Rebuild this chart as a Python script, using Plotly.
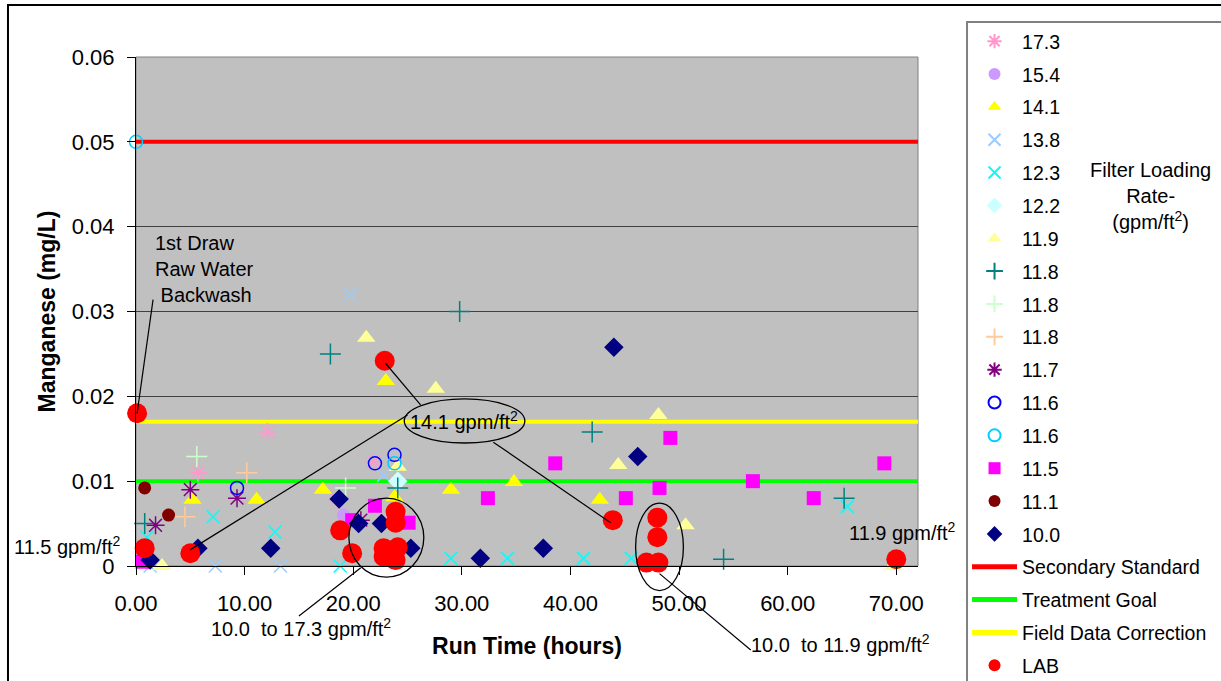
import plotly.graph_objects as go

XMAX = 72
YMAX = 0.06

# Manganese readings (mg/L) against filter run time (hours), by filter loading rate
r173_x = [12.1, 5.7, 21.9, 18.5]
r173_y = [0.0158, 0.011, 0.0123, 0.0078]
r154_x = [19.1]
r154_y = [0.006]
r141_x = [5.2, 11.1, 17.2, 23.0, 23.8, 29.0, 34.8, 42.7]
r141_y = [0.0078, 0.0078, 0.009, 0.0218, 0.0081, 0.009, 0.0099, 0.0078]
r138_x = [19.7, 22.8, 1.3, 7.3, 13.3]
r138_y = [0.032, 0.0107, 0, 0, 0]
r123_x = [1.0, 7.1, 12.8, 18.8, 29.0, 34.2, 41.2, 45.6, 65.5]
r123_y = [0.0034, 0.0058, 0.004, 0, 0.0009, 0.0009, 0.0009, 0.0009, 0.007]
r122_x = [24.1]
r122_y = [0.01]
r119_x = [2.4, 21.2, 27.6, 24.1, 44.4, 48.1, 50.6, 69.7]
r119_y = [0, 0.0269, 0.0209, 0.0117, 0.0119, 0.0178, 0.0048, 0]
r118a_x = [17.9, 29.8, 42.0, 24.1, 0.8, 54.1, 65.2]
r118a_y = [0.025, 0.03, 0.0158, 0.0092, 0.005, 0.0008, 0.008]
r118b_x = [5.6, 19.3]
r118b_y = [0.0129, 0.0092]
r118c_x = [10.2, 4.5]
r118c_y = [0.011, 0.0058]
r117_x = [9.3, 5.0, 1.8, 20.7]
r117_y = [0.008, 0.009, 0.0048, 0.0054]
r116a_x = [9.3, 22.0, 23.8]
r116a_y = [0.0092, 0.0121, 0.0131]
r116b_x = [0, 23.8]
r116b_y = [0.05, 0.0121]
r115_x = [0.6, 22.0, 19.9, 25.1, 32.4, 38.6, 45.1, 48.2, 49.2, 56.8, 62.4, 68.9]
r115_y = [0.0005, 0.0071, 0.0054, 0.0051, 0.008, 0.0121, 0.008, 0.0092, 0.0151, 0.01, 0.008, 0.0121]
r111_x = [0.8, 3.0]
r111_y = [0.0092, 0.006]
r100_x = [1.3, 5.7, 12.4, 18.7, 20.5, 22.6, 25.3, 31.7, 37.5, 44.0, 46.2]
r100_y = [0.0007, 0.0021, 0.0021, 0.0079, 0.005, 0.005, 0.0021, 0.0009, 0.0021, 0.0258, 0.0129]
lab_x = [0.1, 0.8, 5.0, 22.9, 18.8, 19.9, 23.9, 23.9, 22.8, 24.1, 22.8, 23.9,
         43.9, 48.0, 48.0, 47.0, 48.1, 70.0]
lab_y = [0.018, 0.0021, 0.0015, 0.0242, 0.0042, 0.0015, 0.0064, 0.0051, 0.0021, 0.0022,
         0.0011, 0.0007, 0.0054, 0.0057, 0.0034, 0.0004, 0.0004, 0.0008]

# Reference levels (mg/L)
SECONDARY_STANDARD = 0.05
TREATMENT_GOAL = 0.01
FIELD_CORRECTION = 0.017

x_ticks = [0, 10, 20, 30, 40, 50, 60, 70]
y_ticks = [0, 0.01, 0.02, 0.03, 0.04, 0.05, 0.06]
y_ticktext = ["0", "0.01", "0.02", "0.03", "0.04", "0.05", "0.06"]

FONT = "Liberation Sans, Arial, sans-serif"

# name, x, y, symbol, colour, size, outline-only
series = [
    ("17.3", r173_x, r173_y, "asterisk-open", "#FF99CC", 15, True),
    ("15.4", r154_x, r154_y, "circle", "#CC99FF", 13, False),
    ("14.1", r141_x, r141_y, "triangle-up", "#FFFF00", 16, False),
    ("13.8", r138_x, r138_y, "x-thin-open", "#99CCFF", 13, True),
    ("12.3", r123_x, r123_y, "x-thin-open", "#00FFFF", 13, True),
    ("12.2", r122_x, r122_y, "diamond", "#CCFFFF", 15, False),
    ("11.9", r119_x, r119_y, "triangle-up", "#FFFF99", 16, False),
    ("11.8", r118a_x, r118a_y, "cross-thin-open", "#008080", 15, True),
    ("11.8", r118b_x, r118b_y, "cross-thin-open", "#CCFFCC", 15, True),
    ("11.8", r118c_x, r118c_y, "cross-thin-open", "#FFCC99", 15, True),
    ("11.7", r117_x, r117_y, "asterisk-open", "#800080", 15, True),
    ("11.6", r116a_x, r116a_y, "circle-open", "#0000FF", 13, True),
    ("11.6", r116b_x, r116b_y, "circle-open", "#00CCFF", 13, True),
    ("11.5", r115_x, r115_y, "square", "#FF00FF", 14, False),
    ("11.1", r111_x, r111_y, "circle", "#800000", 13, False),
    ("10.0", r100_x, r100_y, "diamond", "#000080", 15, False),
]

levels = [
    ("Secondary Standard", SECONDARY_STANDARD, "#FF0000"),
    ("Treatment Goal", TREATMENT_GOAL, "#00FF00"),
    ("Field Data Correction", FIELD_CORRECTION, "#FFFF00"),
]

fig = go.Figure()

# reference lines go under the markers but sit after the rates in the legend
for j, (name, level, colour) in enumerate(levels):
    fig.add_trace(go.Scatter(
        x=[0, XMAX], y=[level, level], mode="lines", name=name,
        line=dict(color=colour, width=4),
        legendgroup=f"lvl{j}", legendrank=len(series) + j,
        cliponaxis=False, hoverinfo="skip"))

for i, (name, xs, ys, symbol, colour, size, open_) in enumerate(series):
    if open_:
        marker = dict(symbol=symbol, size=size, color=colour,
                      line=dict(color=colour, width=1.5))
    else:
        marker = dict(symbol=symbol, size=size, color=colour, line=dict(width=0))
    fig.add_trace(go.Scatter(
        x=xs, y=ys, mode="markers", name=name, marker=marker,
        legendgroup=f"rate{i}", legendrank=i, cliponaxis=False))

fig.add_trace(go.Scatter(
    x=lab_x, y=lab_y, mode="markers", name="LAB",
    marker=dict(symbol="circle", size=20, color="#FF0000", line=dict(width=0)),
    legendgroup="lab", legendrank=len(series) + len(levels), cliponaxis=False))


def px(x):
    return x / XMAX


def py(y):
    return y / YMAX


def seg(x0, y0, x1, y1):
    return dict(type="line", xref="paper", yref="paper",
                x0=px(x0), y0=py(y0), x1=px(x1), y1=py(y1),
                line=dict(color="#000000", width=1.2), layer="above")


def ring(x0, y0, x1, y1):
    return dict(type="circle", xref="paper", yref="paper",
                x0=px(x0), y0=py(y0), x1=px(x1), y1=py(y1),
                line=dict(color="#000000", width=1.3), layer="above")


shapes = [
    # plot-area frame
    dict(type="rect", xref="paper", yref="paper", x0=0, y0=0, x1=1, y1=1,
         line=dict(color="#808080", width=1), layer="below"),
    # chart-area frame
    dict(type="rect", xref="paper", yref="paper", x0=-0.1637, y0=-0.6, x1=1.6, y1=1.1022,
         line=dict(color="#000000", width=2)),
    # legend frame
    dict(type="rect", xref="paper", yref="paper", x0=1.0627, y0=-0.5, x1=1.5, y1=1.0688,
         line=dict(color="#808080", width=2)),
    seg(1.57, 0.0314, 0.1, 0.018),
    seg(22.97, 0.0239, 26.2, 0.019),
    seg(4.98, 0.0019, 25.0, 0.0178),
    seg(32.9, 0.0146, 43.7, 0.0051),
    seg(20.7, -0.0002, 15.0, -0.0059),
    seg(48.2, -0.0009, 56.6, -0.0099),
    ring(24.7, 0.0145, 35.8, 0.0197),
    ring(19.6, -0.0013, 26.5, 0.008),
    ring(46.0, -0.0029, 50.4, 0.0074),
]


def label(x, y, text, xanchor="center", align="center"):
    return dict(x=px(x), y=py(y), xref="paper", yref="paper", text=text,
                xanchor=xanchor, yanchor="middle", align=align,
                showarrow=False, font=dict(family=FONT, size=20, color="#000000"))


annotations = [
    label(1.57, 0.035, "1st Draw<br>Raw Water<br>&nbsp;Backwash", xanchor="left", align="left"),
    label(30.2, 0.0171, "14.1 gpm/ft<sup>2</sup>"),
    label(15.2, -0.0072, "10.0&nbsp; to 17.3 gpm/ft<sup>2</sup>"),
    label(64.9, -0.0091, "10.0&nbsp; to 11.9 gpm/ft<sup>2</sup>"),
    label(-6.27, 0.0024, "11.5 gpm/ft<sup>2</sup>"),
    label(70.6, 0.0041, "11.9 gpm/ft<sup>2</sup>"),
    dict(x=1.2967, y=0.727, xref="paper", yref="paper", xanchor="center", yanchor="middle",
         text="Filter Loading<br>Rate-<br>(gpm/ft<sup>2</sup>)", showarrow=False,
         font=dict(family=FONT, size=20, color="#000000")),
]

fig.update_layout(
    width=1221, height=681, autosize=False,
    margin=dict(l=136, r=303, t=57, b=115, pad=0, autoexpand=False),
    paper_bgcolor="#FFFFFF", plot_bgcolor="#C0C0C0",
    font=dict(family=FONT, size=21, color="#000000"),
    showlegend=True,
    legend=dict(
        x=1.0627, y=1.0688, xanchor="left", yanchor="top",
        bgcolor="rgba(0,0,0,0)", borderwidth=0,
        font=dict(family=FONT, size=19.5, color="#000000"),
        itemsizing="constant", itemwidth=45, tracegroupgap=4.5,
        traceorder="grouped", maxheight=680),
    shapes=shapes, annotations=annotations,
    xaxis=dict(
        range=[0, XMAX], tickvals=x_ticks, tickformat=".2f",
        showgrid=False, zeroline=False, showline=True, linecolor="#000000", linewidth=1,
        ticks="outside", ticklen=8, tickcolor="#000000", ticklabelstandoff=10,
        tickfont=dict(family=FONT, size=22),
        title=dict(text="<b>Run Time (hours)</b>", font=dict(family=FONT, size=23), standoff=22)),
    yaxis=dict(
        range=[0, YMAX], tickvals=y_ticks, ticktext=y_ticktext,
        showgrid=True, gridcolor="#404040", gridwidth=1, zeroline=False,
        showline=True, linecolor="#000000", linewidth=1,
        ticks="outside", ticklen=8, tickcolor="#000000", ticklabelstandoff=8,
        tickfont=dict(family=FONT, size=22),
        title=dict(text="<b>Manganese (mg/L)</b>", font=dict(family=FONT, size=23), standoff=9)),
)

fig.write_html("out.html")
